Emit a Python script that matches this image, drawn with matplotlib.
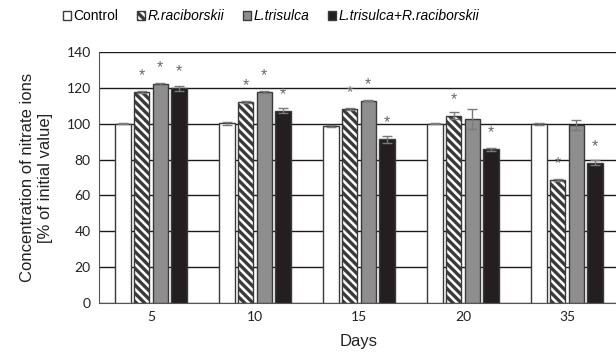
import matplotlib
matplotlib.use("Agg")
import matplotlib.pyplot as plt
from matplotlib.patches import Patch
import numpy as np

days = ["5", "10", "15", "20", "35"]
series = ["Control", "R.raciborskii", "L.trisulca", "L.trisulca+R.raciborskii"]
control = [100, 100.2, 99, 100, 100]
r_rac = [117.8, 112.2, 108.3, 104.6, 68.7]
l_tri = [122.2, 117.6, 112.8, 102.8, 99.6]
l_r = [120, 107.4, 91.3, 85.7, 78.3]
control_err = [0.3, 0.8, 0.6, 0.3, 0.6]
r_rac_err = [0.5, 0.5, 0.5, 1.8, 0.5]
l_tri_err = [0.5, 0.6, 0.3, 5.7, 2.8]
l_r_err = [1.4, 1.6, 2.0, 0.7, 1.3]
# significance star heights (nan = no star)
r_rac_star = [129, 123.5, 119.4, 115.7, 79.8]
l_tri_star = [133.5, 128.7, 123.9, np.nan, np.nan]
l_r_star = [131, 118.5, 102.4, 96.8, 89.4]

values = [control, r_rac, l_tri, l_r]
errors = [control_err, r_rac_err, l_tri_err, l_r_err]
stars = [None, r_rac_star, l_tri_star, l_r_star]

plt.rcParams['hatch.linewidth'] = 2.4
plt.rcParams['font.family'] = ['Liberation Sans', 'DejaVu Sans']

fig = plt.figure(figsize=(6.16, 3.62), dpi=100)
ax = fig.add_axes([0.1607, 0.1638, 0.8442, 0.6917])

edge = '#3a3a3a'
faces = ['white', 'white', '#8e8e8e', '#231f20']
hatches = [None, '\\\\\\\\', None, None]
x = np.arange(len(days))
pitch = 0.18
width = 0.148
offsets = (np.arange(4) - 1.5) * pitch

for i in range(4):
    ax.bar(x + offsets[i], values[i], width=width, color=faces[i], edgecolor=edge,
           linewidth=1.0, hatch=hatches[i], zorder=3, label=series[i])
    ax.errorbar(x + offsets[i], values[i], yerr=errors[i], fmt='none', ecolor='#7a7a7a',
                elinewidth=1.0, capsize=3.5, capthick=1.0, zorder=4)
    if stars[i] is not None:
        for xi, s in zip(x + offsets[i], stars[i]):
            if not np.isnan(s):
                ax.annotate('*', (xi, s), xytext=(0, -2.5), textcoords='offset points',
                            ha='center', va='center', fontsize=11.5, color='#6a6a6a', zorder=5)

ax.set_xlim(-0.5, 4.5)
ax.set_ylim(0, 140)
ax.set_yticks(np.arange(0, 141, 20))
ax.set_xticks(x)
ax.set_xticklabels(days)
ax.yaxis.grid(True, color='#1a1a1a', linewidth=1.0, zorder=0)
ax.set_axisbelow(True)
ax.tick_params(length=0, labelsize=10, colors='#222222', pad=6)
for lab in ax.get_xticklabels() + ax.get_yticklabels():
    lab.set_family(['Lato', 'DejaVu Sans'])
for sp in ['top', 'right']:
    ax.spines[sp].set_visible(False)
ax.spines['left'].set_color('#555555')
ax.spines['bottom'].set_color('#555555')

ax.set_ylabel('Concentration of nitrate ions\n[% of initial value]', fontsize=12, color='#222222', labelpad=10)
ax.set_xlabel('Days', fontsize=12, color='#222222', labelpad=8)

handles = [Patch(facecolor=faces[i], edgecolor=edge, hatch=hatches[i], linewidth=1.0) for i in range(4)]
leg = fig.legend(handles, series, loc='center', bbox_to_anchor=(0.44, 0.955), ncol=4,
                 frameon=False, fontsize=10, handlelength=0.6, handleheight=0.6,
                 handletextpad=0.15, columnspacing=1.35)
for t in leg.get_texts()[1:]:
    t.set_style('italic')

fig.savefig('out.png', dpi=100)
